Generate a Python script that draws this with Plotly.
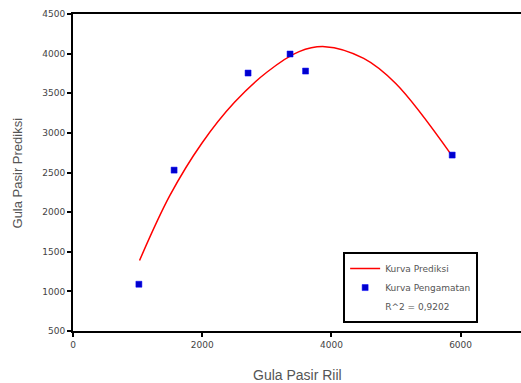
import plotly.graph_objects as go

# Observed data (Kurva Pengamatan)
obs_x = [1020, 1565, 2710, 3360, 3600, 5870]
obs_y = [1090, 2530, 3755, 3995, 3780, 2720]

# Predicted curve (Kurva Prediksi)
pred_x = [1030, 1500, 2000, 2500, 3000, 3500, 3900, 4500, 5000, 5860]
pred_y = [1390, 2210, 2875, 3385, 3765, 4025, 4088, 3940, 3620, 2720]

r2_label = "R^2 = 0,9202"
x_title = "Gula Pasir Riil"
y_title = "Gula Pasir Prediksi"

tick_font = dict(family="DejaVu Sans", size=9, color="#444444")

fig = go.Figure()
fig.add_trace(go.Scatter(x=pred_x, y=pred_y, mode="lines", name="Kurva Prediksi",
                         line=dict(color="#FF0000", width=1.5, shape="spline", smoothing=1.0)))
fig.add_trace(go.Scatter(x=obs_x, y=obs_y, mode="markers", name="Kurva Pengamatan",
                         marker=dict(symbol="square", size=6, color="#0000CC",
                                     line=dict(color="#0000FF", width=0.5))))
fig.add_trace(go.Scatter(x=[None], y=[None], mode="markers", name=r2_label,
                         marker=dict(size=1, color="white", opacity=0)))

fig.update_layout(
    width=521, height=383,
    margin=dict(l=73, r=0, t=14, b=52),
    paper_bgcolor="white", plot_bgcolor="white",
    showlegend=True,
    legend=dict(x=0.603, y=0.249, xanchor="left", yanchor="top",
                bordercolor="black", borderwidth=2, bgcolor="white",
                font=dict(family="DejaVu Sans", size=9, color="#555555"),
                tracegroupgap=0, itemwidth=30),
    xaxis=dict(range=[0, 6935], tickvals=[0, 2000, 4000, 6000],
               ticktext=["0", "2000", "4000", "6000"],
               showgrid=False, zeroline=False, showline=True, linecolor="black",
               linewidth=2, mirror=True, ticks="outside", ticklen=4, tickwidth=1.5,
               tickcolor="black", tickfont=tick_font),
    yaxis=dict(range=[500, 4500], tickvals=[500, 1000, 1500, 2000, 2500, 3000, 3500, 4000, 4500],
               showgrid=False, zeroline=False, showline=True, linecolor="black",
               linewidth=2, ticks="outside", ticklen=4, tickwidth=1.5,
               tickcolor="black", tickfont=tick_font),
    annotations=[
        dict(text=x_title, xref="paper", yref="paper", x=0.5, y=-0.139,
             xanchor="center", yanchor="middle", showarrow=False,
             font=dict(family="Liberation Sans", size=14, color="#555555")),
        dict(text=y_title, xref="paper", yref="paper", x=-0.1228, y=0.5,
             xanchor="center", yanchor="middle", showarrow=False, textangle=-90,
             font=dict(family="Liberation Sans", size=13, color="#555555")),
    ],
)

fig.write_html("out.html")
